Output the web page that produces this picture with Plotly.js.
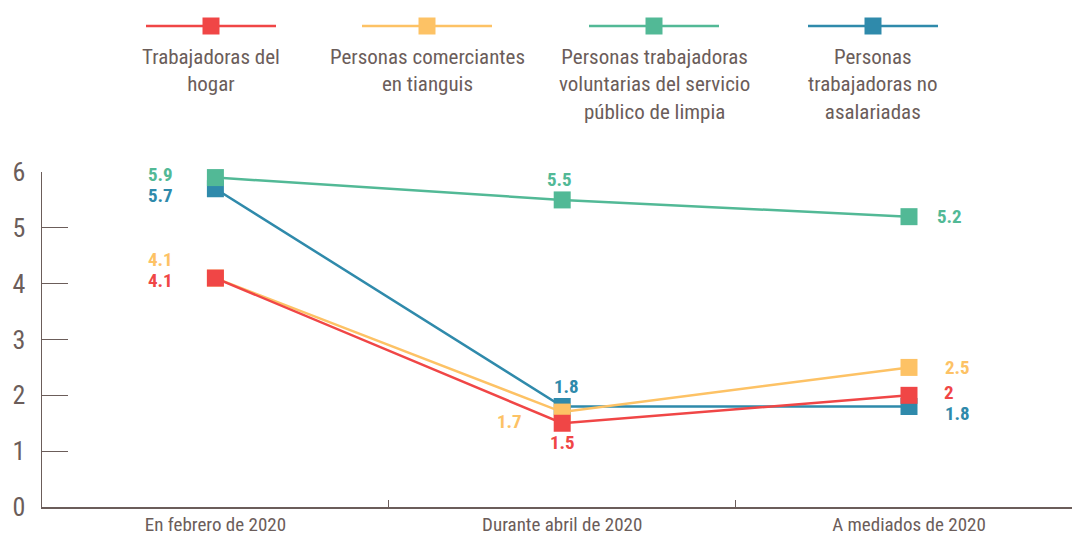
<!DOCTYPE html>
<html>
<head>
<meta charset="utf-8">
<script src="https://cdn.plot.ly/plotly-3.0.1.min.js"></script>
<style>html,body{margin:0;padding:0;background:#fff;}#chart{width:1072px;height:535px;}</style>
</head>
<body>
<div id="chart"></div>
<script>
const categories = ["En febrero de 2020", "Durante abril de 2020", "A mediados de 2020"];
const seriesNames = ["Trabajadoras del<br>hogar", "Personas comerciantes<br>en tianguis", "Personas trabajadoras<br>voluntarias del servicio<br>público de limpia", "Personas<br>trabajadoras no<br>asalariadas"];
const hogar = [4.1, 1.5, 2];
const tianguis = [4.1, 1.7, 2.5];
const limpia = [5.9, 5.5, 5.2];
const noAsalariadas = [5.7, 1.8, 1.8];
const yTicks = [0, 1, 2, 3, 4, 5, 6];

const colors = ["#f04646", "#fdc265", "#52b996", "#2f8aab"];
const textColor = "#6b5d5a";
const FONT = "'Roboto Condensed', 'Liberation Sans Narrow', 'Arial Narrow', Roboto, sans-serif";

const seriesData = [hogar, tianguis, limpia, noAsalariadas];
// label offsets per series per point [xshift, yshift]
const labelOffsets = [
  [[-55, -2], [0, -19], [40, 3]],
  [[-55, 19], [-53, -9], [48, 0]],
  [[-55, 3], [-3, 20], [40, 0]],
  [[-55, -7], [4, 20], [48, -7]]
];
// draw order so that overlapping squares look like reference
const drawOrder = [3, 1, 0, 2];

const traces = drawOrder.map(i => ({
  type: "scatter",
  mode: "lines+markers",
  x: categories,
  y: seriesData[i],
  name: seriesNames[i],
  line: {color: colors[i], width: 2.5},
  marker: {symbol: "square", size: 17, color: colors[i]},
  showlegend: false,
  hoverinfo: "skip",
  cliponaxis: false
}));

const annotations = [];
seriesData.forEach((vals, i) => {
  vals.forEach((v, j) => {
    annotations.push({
      x: categories[j], y: v, xref: "x", yref: "y",
      text: "<b>" + v + "</b>", showarrow: false,
      xshift: labelOffsets[i][j][0], yshift: labelOffsets[i][j][1],
      font: {family: FONT, size: 19, color: colors[i]}
    });
  });
});

// custom legend
const legendCenters = [211, 427, 654, 873];
const shapes = [];
legendCenters.forEach((cx, i) => {
  shapes.push({type: "line", xref: "paper", yref: "paper",
    x0: (cx - 65 - 42) / 1030, x1: (cx + 65 - 42) / 1030,
    y0: (507 - 26) / 335, y1: (507 - 26) / 335,
    line: {color: colors[i], width: 2.5}});
  shapes.push({type: "rect", xref: "paper", yref: "paper",
    x0: (cx - 8.5 - 42) / 1030, x1: (cx + 8.5 - 42) / 1030,
    y0: (507 - 34.5) / 335, y1: (507 - 17.5) / 335,
    fillcolor: colors[i], line: {width: 0}});
  annotations.push({
    xref: "paper", yref: "paper",
    x: (cx - 42) / 1030, y: (507 - 43) / 335,
    xanchor: "center", yanchor: "top",
    text: seriesNames[i], showarrow: false, align: "center",
    font: {family: FONT, size: 21, color: textColor}
  });
});

const layout = {
  width: 1072, height: 535,
  margin: {l: 42, r: 0, t: 172, b: 28},
  paper_bgcolor: "#fff", plot_bgcolor: "#fff",
  font: {family: FONT, color: textColor},
  xaxis: {
    type: "category", range: [-0.5, 2.47],
    showgrid: false, zeroline: false,
    showline: true, linecolor: textColor, linewidth: 1.5,
    ticks: "inside", tickson: "boundaries", ticklen: 7, tickcolor: textColor, tickwidth: 1.2,
    tickfont: {family: FONT, size: 19, color: textColor},
    ticklabelstandoff: 0,
    fixedrange: true
  },
  yaxis: {
    range: [0, 6], tickvals: yTicks,
    showgrid: false, zeroline: false,
    showline: true, linecolor: textColor, linewidth: 1.5,
    ticks: "inside", ticklen: 26, tickcolor: textColor, tickwidth: 1.2,
    tickfont: {family: FONT, size: 26, color: textColor},
    ticklabelstandoff: 10,
    fixedrange: true
  },
  shapes: shapes,
  annotations: annotations
};

Plotly.newPlot("chart", traces, layout, {displayModeBar: false, staticPlot: true});
</script>
</body>
</html>
